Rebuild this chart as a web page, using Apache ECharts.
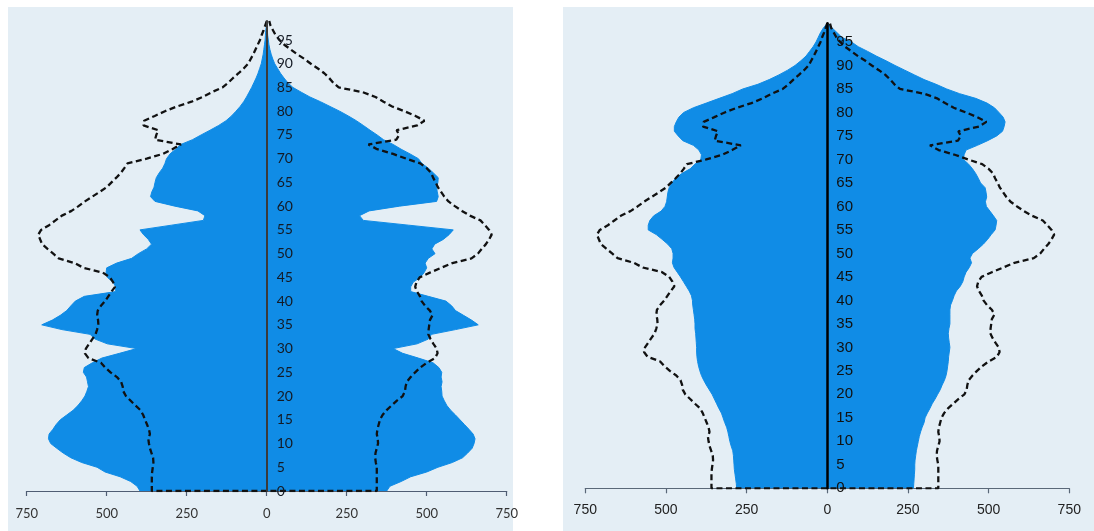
<!DOCTYPE html>
<html><head><meta charset="utf-8">
<script src="https://cdn.jsdelivr.net/npm/echarts@6/dist/echarts.min.js"></script>
<style>html,body{margin:0;padding:0;background:#fff}#c{width:1094px;height:531px}</style>
</head><body><div id="c"></div>
<script>
// Age categories (single years)
const ages = ['0','1','2','3','4','5','6','7','8','9','10','11','12','13','14','15','16','17','18','19',
'20','21','22','23','24','25','26','27','28','29','30','31','32','33','34','35','36','37','38','39',
'40','41','42','43','44','45','46','47','48','49','50','51','52','53','54','55','56','57','58','59',
'60','61','62','63','64','65','66','67','68','69','70','71','72','73','74','75','76','77','78','79',
'80','81','82','83','84','85','86','87','88','89','90','91','92','93','94','95','96','97','98','99'];

// x tick values
const xTicks = [-750,-500,-250,0,250,500,750];

// Left panel, blue (males left, females right)
const leftMale = [396,405,425,458,505,530,578,612,636,656,
675,682,680,668,658,645,625,605,590,578,
568,562,557,560,563,573,570,545,515,460,
406,498,536,552,640,703,670,645,625,612,
598,570,472,472,480,498,502,500,469,422,
401,375,360,370,385,396,297,198,193,215,
287,349,363,359,352,349,345,336,325,318,
313,302,285,268,232,205,177,150,127,110,
96,83,72,63,55,47,40,33,27,22,
17,14,11,9,7,5,4,3,1,0];
const leftFemale = [375,385,420,450,500,535,580,612,628,642,
648,651,645,632,618,604,590,575,563,555,
548,547,545,548,545,547,538,520,474,425,
395,470,505,515,590,661,640,615,590,578,
560,505,450,450,458,480,492,500,495,505,
526,516,525,552,570,583,443,302,290,320,
415,531,536,533,531,535,536,521,505,485,
474,448,420,395,365,345,323,302,280,255,
228,198,168,135,108,82,66,54,43,34,
25,19,14,10,7,5,3,2,1,0];

// Right panel, blue
const rightMale = [281,282,284,286,288,289,290,291,293,298,
302,305,308,312,318,323,328,336,343,350,
357,366,375,383,390,395,399,402,404,405,
405,406,407,408,410,410,411,413,415,417,
418,421,428,437,446,455,465,475,480,478,
478,482,495,512,530,555,555,550,538,515,
503,498,496,494,490,482,470,451,425,410,
392,390,398,415,448,462,474,474,468,460,
445,415,375,335,295,262,215,180,150,123,
100,82,66,55,44,35,28,21,12,0];
const rightFemale = [267,268,269,270,271,271,272,274,276,279,
282,285,289,294,300,303,310,318,325,334,
342,350,356,363,368,371,373,375,376,378,
380,378,376,375,377,380,380,380,380,382,
388,393,400,412,420,424,430,440,447,442,
450,468,484,497,508,520,523,525,515,504,
493,490,494,492,489,475,468,460,450,438,
422,424,430,465,497,525,543,548,551,545,
532,518,495,460,410,370,337,300,270,240,
210,182,152,125,96,75,45,30,15,0];

// Dashed reference population (same in both panels)
const baseMale = [359,359,359,359,358,356,354,355,360,365,
368,370,365,368,374,380,386,394,410,425,
440,448,450,455,468,488,505,518,557,568,
565,555,545,535,530,526,527,530,528,518,
505,495,485,474,480,490,512,572,600,650,
667,685,702,708,714,705,680,660,640,610,
588,568,545,522,500,485,470,456,445,435,
375,325,295,268,349,345,339,385,383,350,
318,280,235,200,172,138,120,105,88,72,
58,50,42,35,28,21,16,10,5,0];
const baseFemale = [344,344,344,344,344,344,341,339,340,344,
348,347,344,346,350,354,362,374,390,406,
425,432,434,438,450,464,480,500,526,534,
531,521,512,505,506,508,510,518,510,495,
484,479,470,464,468,478,510,545,580,640,
660,672,685,695,703,695,682,668,635,610,
588,568,555,545,535,528,520,514,500,480,
436,395,345,318,405,414,406,470,493,465,
430,392,365,340,300,225,208,195,180,160,
138,118,95,75,55,40,28,20,12,8];

const BLUE = '#108ce6';
const BG = '#e4eef5';

function dashedPath() {
  const pts = [];
  for (let i = ages.length - 1; i >= 0; i--) pts.push([-baseMale[i], ages[i]]);
  for (let i = 0; i < ages.length; i++) pts.push([baseFemale[i], ages[i]]);
  return pts;
}

const grids = [
  {left:26.7, top:21, width:480, height:470},
  {left:585.3, top:23.2, width:484, height:465.1}
];

const panels = [
  {male: leftMale, female: leftFemale, axisColor:'#4f5d73', lineColor:'#3a3a3a', lineW:2,
   ageFont:'Lato', ageSize:14, ageColor:'#141a24', ageMargin:10,
   tickFont:'Lato', tickSize:13, tickColor:'#333333', tickMargin:16},
  {male: rightMale, female: rightFemale, axisColor:'#5a6878', lineColor:'#000000', lineW:2.5,
   ageFont:'Liberation Sans', ageSize:15, ageColor:'#111111', ageMargin:9,
   tickFont:'Liberation Sans', tickSize:14, tickColor:'#222222', tickMargin:15}
];

const option = {
  animation: false,
  backgroundColor: '#ffffff',
  graphic: [
    {type:'rect', z:-100, silent:true, shape:{x:8, y:7, width:505, height:524}, style:{fill:BG}},
    {type:'rect', z:-100, silent:true, shape:{x:563, y:7, width:531, height:524}, style:{fill:BG}}
  ],
  grid: grids,
  xAxis: panels.map((p, i) => ({
    gridIndex: i, type:'value', min: xTicks[0], max: xTicks[xTicks.length-1], interval: 250,
    axisLine: {show:true, onZero:false, lineStyle:{color:p.axisColor, width:1.2}},
    axisTick: {show:true, length:5, lineStyle:{color:p.axisColor, width:1.2}},
    axisLabel: {formatter: v => String(Math.abs(v)), margin:p.tickMargin,
      fontFamily:p.tickFont, fontSize:p.tickSize, color:p.tickColor},
    splitLine: {show:false}
  })),
  yAxis: panels.map((p, i) => ({
    gridIndex: i, type:'category', data: ages, boundaryGap:false, z: 10,
    position:'left', offset: -grids[i].width / 2,
    axisLine: {show:true, onZero:false, lineStyle:{color:p.lineColor, width:p.lineW}},
    axisTick: {show:false},
    axisLabel: {inside:true, interval:4, margin:p.ageMargin,
      fontFamily:p.ageFont, fontSize:p.ageSize, color:p.ageColor},
    splitLine: {show:false}
  })),
  series: []
};

panels.forEach((p, i) => {
  option.series.push({
    type:'line', xAxisIndex:i, yAxisIndex:i, data: p.male.map(v => -v),
    symbol:'none', lineStyle:{width:1, color:BLUE}, areaStyle:{color:BLUE, opacity:1}, z:2
  });
  option.series.push({
    type:'line', xAxisIndex:i, yAxisIndex:i, data: p.female,
    symbol:'none', lineStyle:{width:1, color:BLUE}, areaStyle:{color:BLUE, opacity:1}, z:2
  });
  option.series.push({
    type:'line', xAxisIndex:i, yAxisIndex:i, data: dashedPath(),
    symbol:'none', lineStyle:{width:2.3, color:'#111111', type:[6,3.5]}, z:3
  });
});

const chart = echarts.init(document.getElementById('c'), null, {renderer:'canvas'});
chart.setOption(option);
</script>
</body></html>
